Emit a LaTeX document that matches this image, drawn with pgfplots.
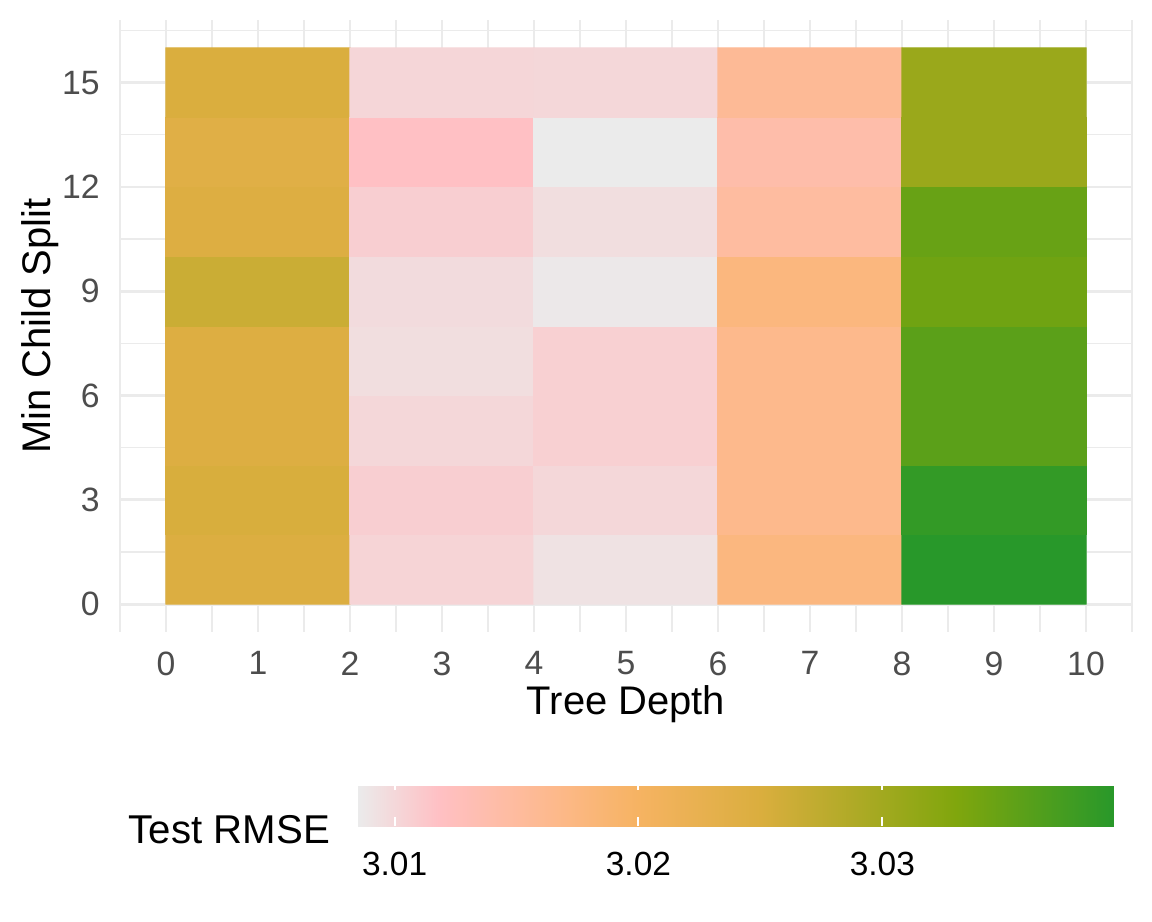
\documentclass[border=0pt]{standalone}
\usepackage{fontspec}
\setmainfont{Liberation Sans}
\usepackage{pgfplots}
\pgfplotsset{compat=1.18}
\usepackage{pgfplotstable}

\definecolor{gridgray}{RGB}{235,235,235}
\definecolor{ticktext}{RGB}{77,77,77}

% test RMSE per (tree depth, min child split) cell
\pgfplotstableread{
x y c
1 1 3.0246
3 1 3.0103
5 1 3.0092
7 1 3.0176
9 1 3.0395
1 3 3.0252
3 3 3.0107
5 3 3.0100
7 3 3.0165
9 3 3.0387
1 5 3.0245
3 5 3.0100
5 5 3.0106
7 5 3.0165
9 5 3.0357
1 7 3.0245
3 7 3.0095
5 7 3.0106
7 7 3.0165
9 7 3.0357
1 9 3.0264
3 9 3.0097
5 9 3.0087
7 9 3.0177
9 9 3.0342
1 11 3.0245
3 11 3.0107
5 11 3.0095
7 11 3.0148
9 11 3.0348
1 13 3.0239
3 13 3.0118
5 13 3.0085
7 13 3.0140
9 13 3.0307
1 15 3.0250
3 15 3.0101
5 15 3.0100
7 15 3.0157
9 15 3.0307
}\rmsedata

\begin{document}
\begin{tikzpicture}
\begin{axis}[
  name=main,
  scale only axis,
  width=12.65cm, height=7.65cm,
  xmin=-0.5, xmax=10.5,
  ymin=-0.8, ymax=16.8,
  xtick={0,1,...,10},
  ytick={0,3,...,15},
  minor xtick={-0.5,0.5,...,10.5},
  minor ytick={1.5,4.5,...,16.5},
  grid=both,
  major grid style={gridgray, line width=1pt},
  minor grid style={gridgray, line width=0.5pt},
  axis line style={draw=none},
  tick style={draw=none},
  major tick length=0pt, minor tick length=0pt,
  /pgf/number format/assume math mode=true,
  tick label style={font=\fontsize{12}{14}\selectfont, text=ticktext},
  xticklabel style={yshift=-0.12cm},
  yticklabel style={xshift=-0.13cm},
  label style={font=\fontsize{14.2}{17}\selectfont},
  xlabel={Tree Depth},
  ylabel={Min Child Split},
  xlabel style={at={(axis description cs:0.5,-0.1176)}, anchor=center},
  ylabel style={at={(axis description cs:-0.079,0.5)}, anchor=center},
  colormap={rmse}{
    rgb255(0pt)=(235,235,235)
    rgb255(33pt)=(255,192,196)
    rgb255(80pt)=(253,185,140)
    rgb255(115pt)=(246,179,98)
    rgb255(165pt)=(218,174,62)
    rgb255(245pt)=(128,166,13)
    rgb255(310pt)=(40,152,42)
  },
  point meta min=3.0085, point meta max=3.0395,
  colorbar horizontal,
  colorbar style={
    at={(parent axis.south west)}, anchor=north west,
    xshift=2.975cm, yshift=-1.5625cm,
    scale only axis,
    width=9.45cm, height=0.5625cm,
    axis on top,
    xtick={3.01,3.02,3.03},
    xticklabels={3.01,3.02,3.03},
    xtick pos=both, xticklabel pos=lower,
    tick align=inside,
    major tick length=0.11cm,
    tick style={draw=white, line width=0.7pt},
    axis line style={draw=none},
    /pgf/number format/assume math mode=true,
    xticklabel style={font=\fontsize{11.9}{14}\selectfont, text=black, yshift=-0.2cm},
    after end axis/.code={
      \node[anchor=base east, font=\fontsize{14.3}{17}\selectfont]
        at (rel axis cs:-0.024,-0.38) {Test RMSE};
    },
  },
]
\addplot[matrix plot*, mesh/cols=5, point meta=explicit]
  table[x=x, y=y, meta=c] {\rmsedata};
\end{axis}
\path (main.south west) ++(-1.5cm,7.9cm) rectangle ++(14.4cm,-11.5125cm);
\end{tikzpicture}
\end{document}
